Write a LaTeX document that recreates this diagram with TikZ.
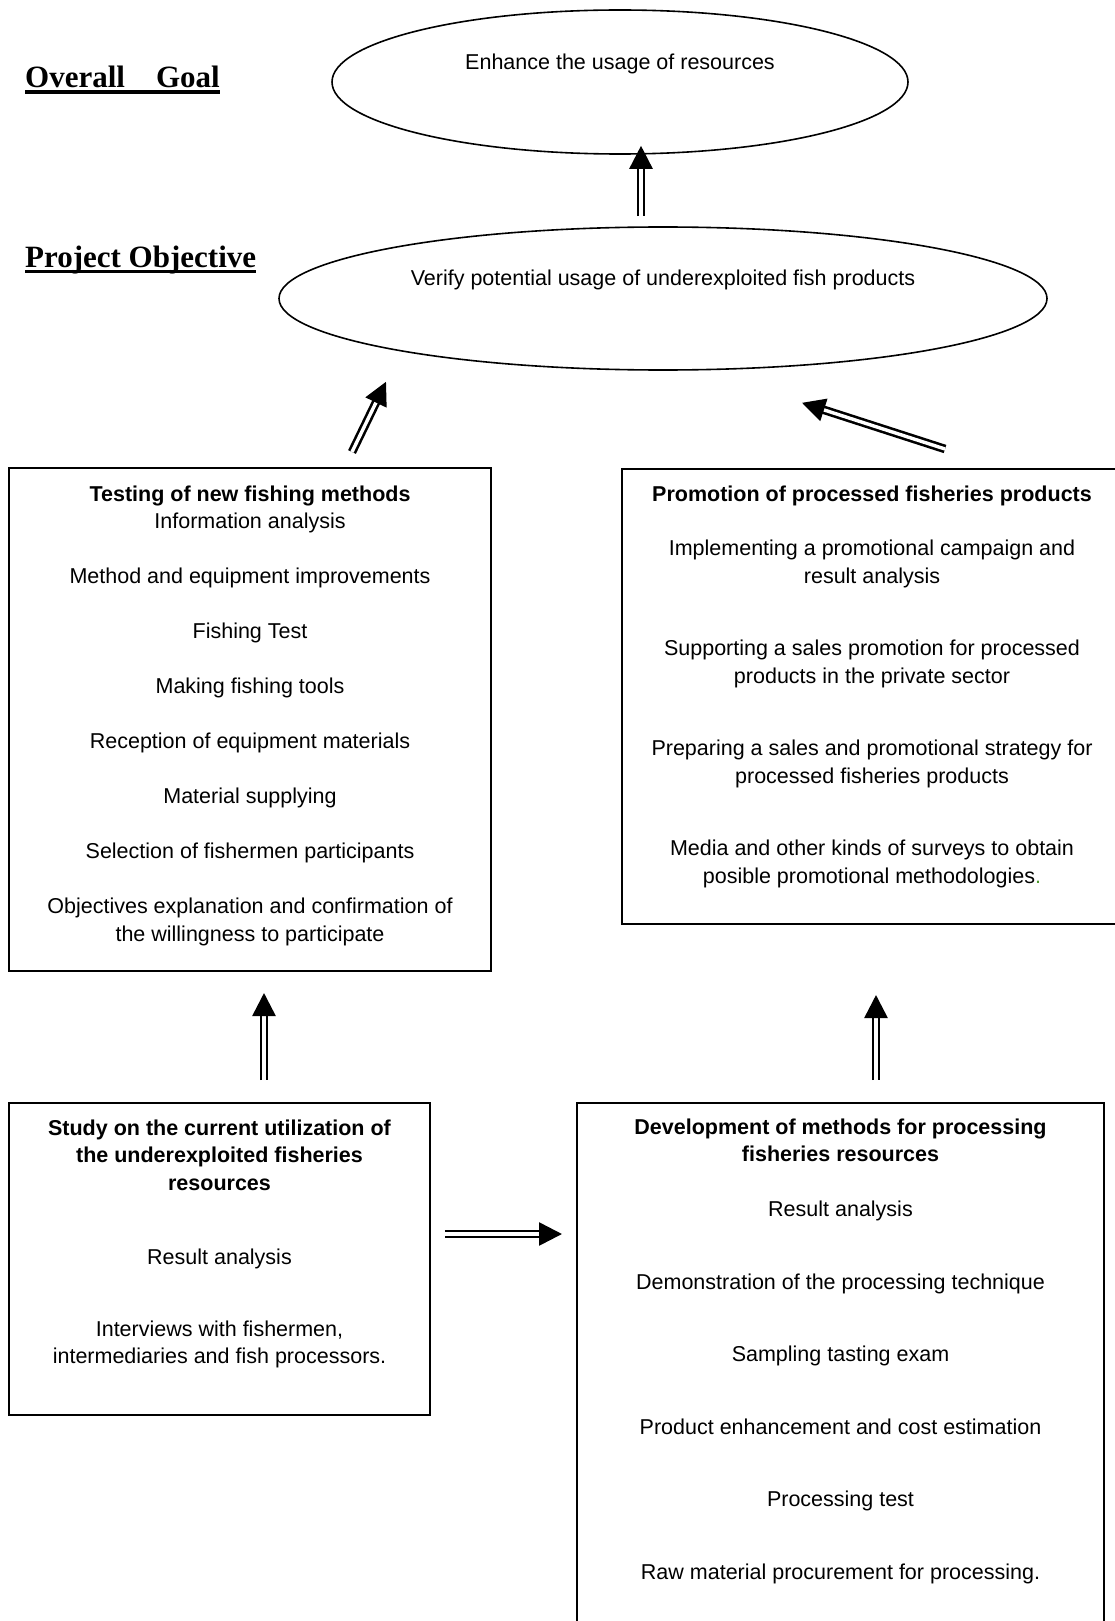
\documentclass[tikz,border=0pt]{standalone}
\usepackage{fontspec}
\setmainfont{Liberation Sans}
\newfontfamily\headfont{Liberation Serif}
\usepackage{tikz}
\usetikzlibrary{
  arrows.meta, positioning, shapes.geometric, calc
}
\definecolor{colInk}  {HTML}{000000}
\definecolor{colDot}  {HTML}{4E9A2E}
\newcommand{\topgap}[1]{\rule{0pt}{#1}}
\newcommand{\botgap}[1]{\rule[-#1]{0pt}{#1}}
\newcommand{\headul}[1]{\setbox0=\hbox{#1}\rlap{\rule[-6pt]{\wd0}{3.5pt}}\box0}
\tikzset{
  heading/.style={
    anchor=base west, inner sep=0pt,
    font=\headfont\bfseries\fontsize{31}{36}\selectfont
  },
  aim/.style={
    draw=colInk, ellipse, line width=1.6pt, inner sep=0pt,
    font=\fontsize{21.5}{27.5}\selectfont
  },
  block/.style={
    draw=colInk, rectangle, anchor=north, align=center,
    inner xsep=0pt, inner ysep=0pt, line width=2pt,
    font=\fontsize{21.5}{27.5}\selectfont
  },
  dblarr/.style={
    draw=colInk, double, line width=2.6pt, double distance=3.4pt,
    -{Triangle[length=23pt,width=23pt]}
  }
}
\begin{document}
\begin{tikzpicture}[x=1pt, y=-1pt]
  \useasboundingbox (0,0) rectangle (1115,1621);
  \clip (0,0) rectangle (1115,1621);
  % levels
  \node[heading] (ovgoal) at (25,88) {\headul{Overall\hspace{31pt}Goal}};
  \node[heading] (projobj) at (25,267) {\headul{Project Objective}};
  % goal and objective
  \node[aim, minimum width=576pt, minimum height=144pt] (goal) at (620,82)
    {\rule[-44pt]{0pt}{64pt}Enhance the usage of resources};
  \node[aim, minimum width=768pt, minimum height=143pt] (obj) at (663,298.5)
    {\rule[-47pt]{0pt}{67pt}Verify potential usage of underexploited fish products};
  % outputs
  \node[block, minimum width=482pt] (test) at (250,467)
    {\topgap{33pt}\textbf{Testing of new fishing methods}\\
     Information analysis\\[27.5pt]
     Method and equipment improvements\\[27.5pt]
     Fishing Test\\[27.5pt]
     Making fishing tools\\[27.5pt]
     Reception of equipment materials\\[27.5pt]
     Material supplying\\[27.5pt]
     Selection of fishermen participants\\[27.5pt]
     Objectives explanation and confirmation of\\
     the willingness to participate\botgap{30pt}};
  \node[block, minimum width=500pt] (promo) at (872,468)
    {\topgap{32pt}\textbf{Promotion of processed fisheries products}\\[27pt]
     Implementing a promotional campaign and\\
     result analysis\\[45pt]
     Supporting a sales promotion for processed\\
     products in the private sector\\[45pt]
     Preparing a sales and promotional strategy for\\
     processed fisheries products\\[45pt]
     Media and other kinds of surveys to obtain\\
     posible promotional methodologies{\color{colDot}.}\botgap{41pt}};
  \node[block, minimum width=421pt] (study) at (219.5,1102)
    {\topgap{32pt}\textbf{Study on the current utilization of}\\
     \textbf{the underexploited fisheries}\\
     \textbf{resources}\\[46.5pt]
     Result analysis\\[44.5pt]
     Interviews with fishermen,\\
     intermediaries and fish processors.\botgap{51pt}};
  \node[block, minimum width=527pt] (dev) at (840.5,1102)
    {\topgap{31pt}\textbf{Development of methods for processing}\\
     \textbf{fisheries resources}\\[27.5pt]
     Result analysis\\[45pt]
     Demonstration of the processing technique\\[45pt]
     Sampling tasting exam\\[45pt]
     Product enhancement and cost estimation\\[45pt]
     Processing test\\[45pt]
     Raw material procurement for processing.\botgap{62pt}};
  % links
  \draw[dblarr] ($(obj.north)+(-22,-10)$) -- ($(goal.south)+(21,-9)$);
  \draw[dblarr] ($(test.north)+(102,-15)$) -- ($(obj.south)+(-277,11)$);
  \draw[dblarr] ($(promo.north)+(73,-19)$) -- ($(obj.south)+(139,32)$);
  \draw[dblarr] ($(study.north)+(44.5,-22)$) -- ($(test.south)+(14,21)$);
  \draw[dblarr] ($(dev.north)+(35.5,-22)$) -- ($(promo.south)+(4,70)$);
  \draw[dblarr] ($(study.north east)+(14,132)$) -- ($(dev.north west)+(-14,132)$);
\end{tikzpicture}
\end{document}
